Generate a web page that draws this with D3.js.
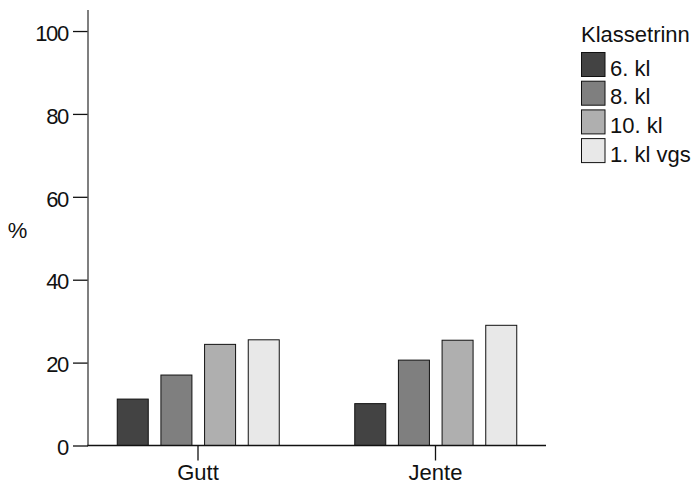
<!DOCTYPE html>
<html>
<head>
<meta charset="utf-8">
<script src="https://cdn.jsdelivr.net/npm/d3@7"></script>
<style>
  html, body { margin: 0; padding: 0; background: #fff; }
  svg { display: block; font-family: "Liberation Sans", Arial, Helvetica, sans-serif; }
</style>
</head>
<body>
<svg id="chart" width="694" height="485"></svg>
<script>
const categories = ["Gutt", "Jente"];
const seriesNames = ["6. kl", "8. kl", "10. kl", "1. kl vgs"];
const values6 = [11.2, 10.1];
const values8 = [17.0, 20.6];
const values10 = [24.4, 25.4];
const valuesVgs = [25.5, 29.0];
const yTicks = [0, 20, 40, 60, 80, 100];
const colors = ["#434343", "#7f7f7f", "#afafaf", "#e8e8e8"];
const legendTitle = "Klassetrinn";
const yLabel = "%";

const seriesValues = [values6, values8, values10, valuesVgs];
const data = categories.map((c, i) => ({
  cat: c,
  vals: seriesNames.map((s, j) => ({ key: s, value: seriesValues[j][i], color: colors[j] }))
}));

const svg = d3.select("#chart");
const fontSize = 22;

const y = d3.scaleLinear().domain([0, 105]).range([445.5, 10.3]);
const x0 = d3.scaleBand().domain(categories).range([79.25, 554.25]).padding(0);
const x1 = d3.scaleBand().domain(seriesNames).range([38, 200]).paddingInner(0.29).paddingOuter(0);

// bars
const groups = svg.append("g").selectAll("g").data(data).join("g")
  .attr("transform", d => `translate(${x0(d.cat)},0)`);
groups.selectAll("rect").data(d => d.vals).join("rect")
  .attr("x", d => x1(d.key))
  .attr("y", d => y(d.value))
  .attr("width", x1.bandwidth())
  .attr("height", d => y(0) - y(d.value))
  .attr("fill", d => d.color)
  .attr("stroke", "#111")
  .attr("stroke-width", 1);

// y axis
const yAxis = svg.append("g").attr("transform", "translate(88,0)")
  .call(d3.axisLeft(y).tickValues(yTicks).tickSize(15).tickPadding(5));
yAxis.select(".domain").remove();
yAxis.selectAll(".tick line").attr("stroke", "#111").attr("stroke-width", 1.3);
yAxis.selectAll(".tick text").attr("font-size", fontSize).attr("fill", "#111")
  .attr("dy", "0.42em").attr("letter-spacing", "-1.3px")
  .style("font-family", "'Liberation Sans', Arial, sans-serif");
svg.append("line").attr("x1", 88).attr("x2", 88).attr("y1", 10).attr("y2", y(0))
  .attr("stroke", "#555").attr("stroke-width", 1.5);

// x axis
const xAxis = svg.append("g").attr("transform", `translate(0,${y(0)})`)
  .call(d3.axisBottom(x0).tickSize(15).tickPadding(4));
xAxis.select(".domain").remove();
xAxis.selectAll(".tick line").attr("stroke", "#111").attr("stroke-width", 1.3);
xAxis.selectAll(".tick text").attr("font-size", fontSize).attr("fill", "#111")
  .style("font-family", "'Liberation Sans', Arial, sans-serif");
svg.append("line").attr("x1", 87.25).attr("x2", 546).attr("y1", y(0)).attr("y2", y(0))
  .attr("stroke", "#111").attr("stroke-width", 1.3);

// y label
svg.append("text").attr("x", 17.5).attr("y", 238).attr("text-anchor", "middle")
  .attr("font-size", fontSize).attr("fill", "#111").text(yLabel);

// legend
const legend = svg.append("g").attr("transform", "translate(581,0)");
legend.append("text").attr("x", 0).attr("y", 41.7).attr("font-size", fontSize)
  .attr("fill", "#111").text(legendTitle);
const li = legend.selectAll("g.item").data(seriesNames.map((s, j) => ({ s, c: colors[j] })))
  .join("g").attr("class", "item")
  .attr("transform", (d, i) => `translate(0,${52.5 + i * 28.7})`);
li.append("rect").attr("x", 0.5).attr("y", 0).attr("width", 23.5).attr("height", 24)
  .attr("fill", d => d.c).attr("stroke", "#111").attr("stroke-width", 1);
li.append("text").attr("x", 29).attr("y", 23.3).attr("font-size", fontSize)
  .attr("fill", "#111").text(d => d.s);
</script>
</body>
</html>
